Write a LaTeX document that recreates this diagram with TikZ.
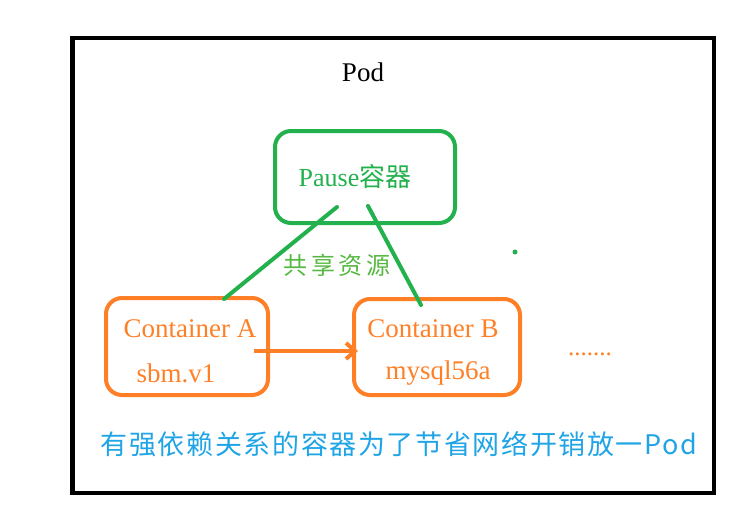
\documentclass[tikz,border=0pt]{standalone}
\usepackage{fontspec}
\setmainfont{Liberation Serif}
\newfontfamily\cjk{Noto Sans CJK SC}
\usetikzlibrary{arrows.meta}
\definecolor{pgreen}{HTML}{22B14C}
\definecolor{porange}{HTML}{FF7F27}
\definecolor{pblue}{HTML}{1FA4E6}
\definecolor{lgreen}{HTML}{55B840}
\begin{document}
\begin{tikzpicture}[x=1pt,y=-1pt,
  gbox/.style={draw=pgreen,line width=4pt,rounded corners=16pt},
  obox/.style={draw=porange,line width=4pt,rounded corners=16pt},
  gline/.style={draw=pgreen,line width=4pt},
  txt/.style={inner sep=0pt,anchor=center}]
\useasboundingbox (0,0) rectangle (753,522);
\draw[line width=4.5pt] (72.5,38) rectangle (714,493);
\node[txt] (pod) at (363,72) {\fontsize{27}{30}\selectfont Pod};
\draw[gbox] (275,131) rectangle (455,223);
\coordinate (pauseA) at (337,207);
\coordinate (pauseB) at (368,206);
\node[txt,text=pgreen] (pause) at (355,177) {\fontsize{26}{30}\selectfont Pause{\cjk 容器}};
\draw[obox] (106,298) rectangle (268,395);
\draw[obox] (354,299) rectangle (520,395);
\coordinate (ctA) at (224,299);
\coordinate (ctB) at (421,305);
\node[txt,text=porange] (ca) at (190,329) {\fontsize{27}{30}\selectfont Container A};
\node[txt,text=porange] (va) at (176,373) {\fontsize{27}{30}\selectfont sbm.v1};
\node[txt,text=porange] (cb) at (433,329) {\fontsize{27}{30}\selectfont Container B};
\node[txt,text=porange] (vb) at (438,373) {\fontsize{27}{30}\selectfont mysql56a};
\draw[gline,line cap=round] (pauseA) -- (ctA);
\draw[gline,line cap=round] (pauseB) -- (ctB);
\node[txt,text=lgreen] (share) at (337,265) {\cjk\addfontfeature{LetterSpace=14}\fontsize{24}{28}\selectfont 共享资源};
\fill[pgreen] (515,252) circle (2.5pt);
\coordinate (arrS) at (254,351);
\coordinate (arrE) at (358,351);
\draw[draw=porange,line width=4pt,-{Straight Barb[length=9pt,width=16pt,line width=4pt]}] (arrS) -- (arrE);
\node[txt,text=porange] (dots) at (590,354) {\fontsize{25}{28}\selectfont .......};
\node[txt,text=pblue] (bottom) at (399,444) {\cjk\addfontfeature{LetterSpace=6}\fontsize{27}{30}\selectfont 有强依赖关系的容器为了节省网络开销放一Pod};
\end{tikzpicture}
\end{document}
